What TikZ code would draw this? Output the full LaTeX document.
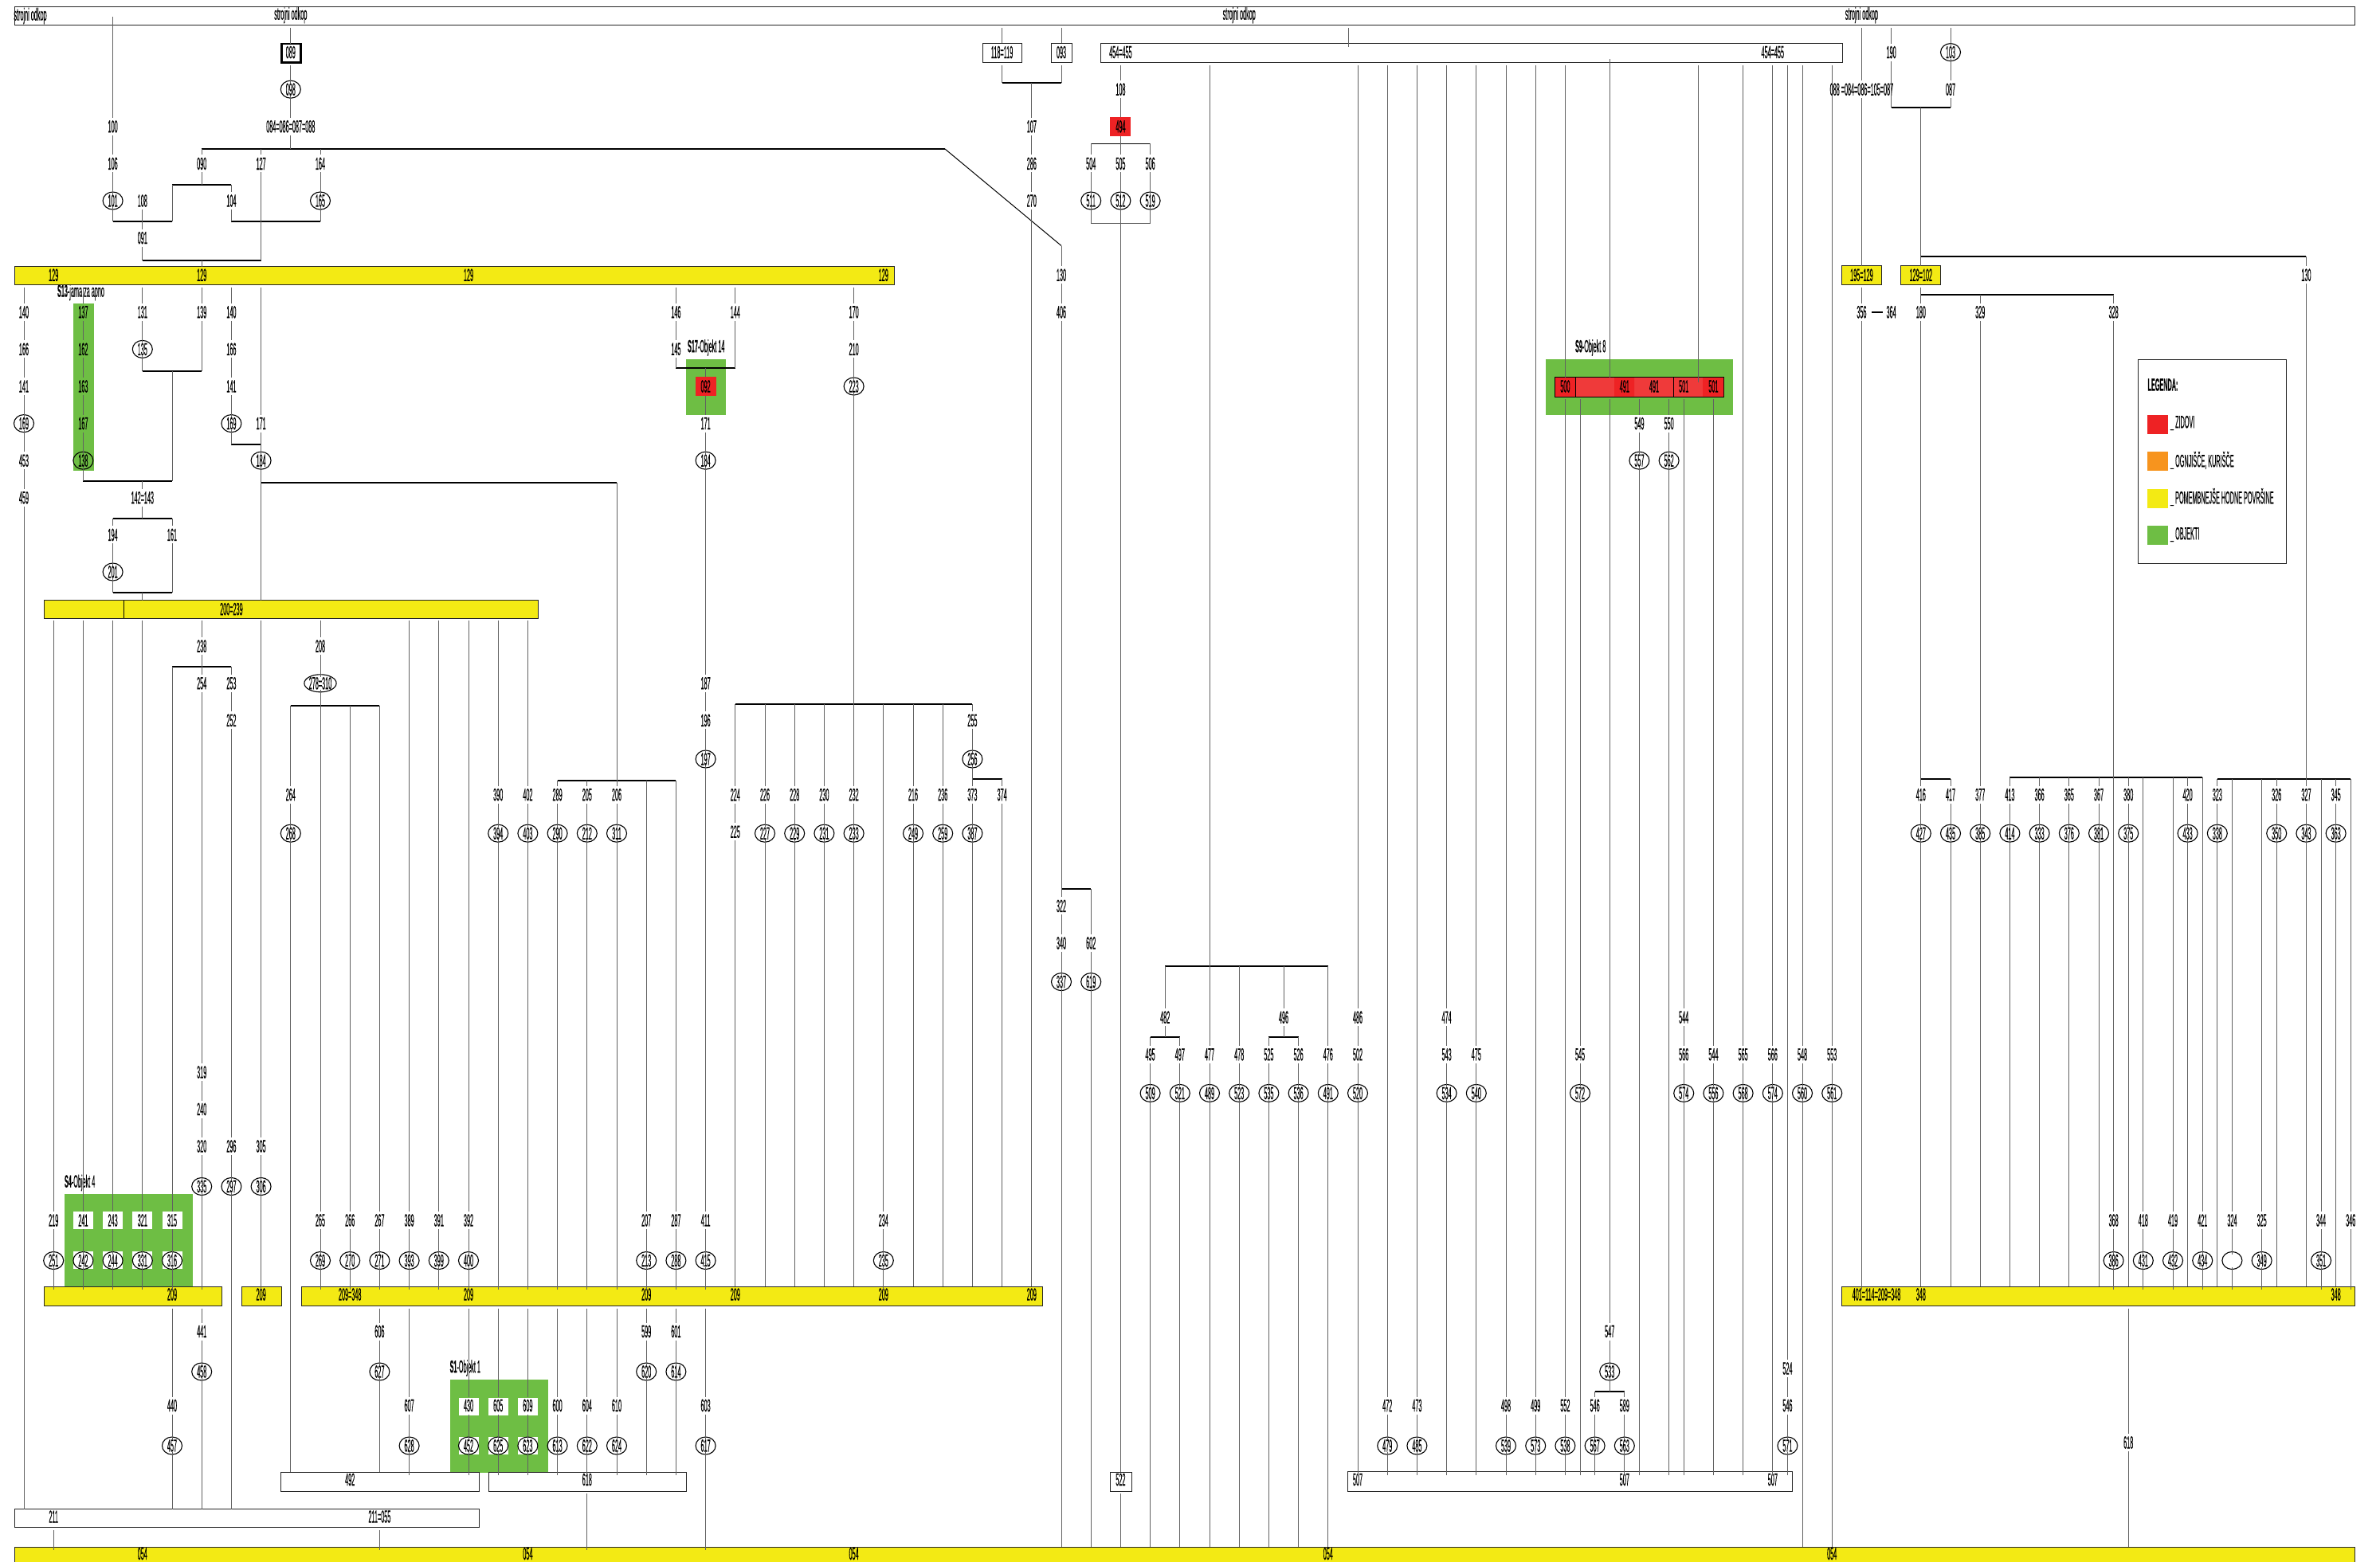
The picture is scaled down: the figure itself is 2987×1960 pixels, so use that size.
\documentclass[tikz,border=0pt]{standalone}
\usepackage{graphicx}
\usepackage{fontspec}
\setmainfont{Liberation Sans}[FakeBold=0.6]
\usetikzlibrary{shapes.geometric,calc}
\definecolor{hYel}{HTML}{F3EA14}
\definecolor{hGrn}{HTML}{6EBE44}
\definecolor{hRed}{HTML}{EE2224}
\definecolor{hRedL}{HTML}{EF3A3A}
\definecolor{hOra}{HTML}{F7941E}
\newcommand\hTx[1]{\scalebox{.33}[1]{\fontsize{22}{24}\selectfont #1}}
\newcommand\hLb[3]{\node[lbl] (n#1r#2) at ({cx(#1)},{ry(#2)}) {\hTx{#3}};}
\newcommand\hEl[3]{\node[ell] (n#1r#2) at ({cx(#1)},{ey(#2)}) {\hTx{#3}};}
\newcommand\hRd[3]{\node[redn] (n#1r#2) at ({cx(#1)},{ry(#2)}) {\hTx{#3}};}
\newcommand\hBar[6]{%
  \node[barbase,#1,anchor=north west,minimum width={(#5-#3)*1pt},minimum height={(#6-#4)*1pt}] (#2) at (#3,#4) {};
  \coordinate (#2t) at (#3,#4);
  \coordinate (#2i) at (#3,#4+4);
  \coordinate (#2b) at (#3,#6+3);
}
\newcommand\hBr[4]{%
  \coordinate (#1) at ({cx(#2)},#4);
  \coordinate (#1R) at ({cx(#3)},#4);
  \draw[thk] (#1) -- (#1R);
}
\newcommand\hSg[3]{\draw[cn] (c#1 |- #2) -- (c#1 |- #3);}
\newcommand\hCh[4]{%
  \foreach \jr/\ty/\tx [remember=\jr as \pj (initially -1)] in {#3}{%
    \if\ty E\hEl{#1}{\jr}{\tx}\else\if\ty R\hRd{#1}{\jr}{\tx}\else\hLb{#1}{\jr}{\tx}\fi\fi
    \ifnum\pj<0
      \if\relax\detokenize{#2}\relax\else\draw[cn] (c#1 |- #2) -- (n#1r\jr);\fi
    \else
      \draw[cn] (n#1r\pj) -- (n#1r\jr);
    \fi
    \xdef\hLast{\jr}%
  }%
  \if\relax\detokenize{#4}\relax\else\draw[cn] (n#1r\hLast) -- (c#1 |- #4);\fi
}
\tikzset{
  lbl/.style={inner sep=0pt,outer sep=0pt,minimum height=22pt},
  ell/.style={ellipse,draw=black,line width=1.1pt,inner sep=0pt,outer sep=-3pt,minimum width=25pt,minimum height=22pt},
  redn/.style={fill=hRed,inner sep=0pt,outer sep=0pt,minimum width=26pt,minimum height=24pt},
  cn/.style={draw=black!62,line width=0.9pt},
  thk/.style={draw=black,line width=2pt},
  thn/.style={draw=black,line width=1pt},
  barbase/.style={inner sep=0pt,outer sep=0pt},
  wbox/.style={draw=black!85,line width=1pt,fill=white},
  ybox/.style={draw=black!85,line width=1pt,fill=hYel},
  gbox/.style={fill=hGrn},
  rbox/.style={fill=hRed},
  obox/.style={fill=hOra},
  lyel/.style={fill=hYel},
}
\begin{document}
\begin{tikzpicture}[x=1pt,y=-1pt,
  declare function={cx(\k)=30+18.6*\k; ry(\j)=(\j<30)?(19+46.6*\j):(1346+46.5*(\j-30)); ey(\j)=ry(\j)+((\j>=30)?4:((\j>=20)?2:0));}]
\useasboundingbox (0,0) rectangle (2987,1960);
\foreach \K in {0,...,160}{\coordinate (c\K) at ({cx(\K)},0);}

% objects (green)
\hBar{gbox}{G13}{92}{381}{118}{590.5}
\hBar{gbox}{G17}{861}{450.8}{911}{521}
\hBar{gbox}{G9}{1939.7}{450.8}{2175}{521}
\hBar{gbox}{G4}{81}{1499}{241.6}{1616}
\hBar{gbox}{G1}{564.6}{1732}{688}{1849}
\foreach \K in {4,6,8,10}{\foreach \j in {34,35}{\fill[white] ({cx(\K)-12.5},{ry(\j)-11+(\j-34)*3}) rectangle ({cx(\K)+12.5},{ry(\j)+11+(\j-34)*3});}}
\foreach \K in {30,32,34}{\foreach \j in {39,40}{\fill[white] ({cx(\K)-12.5},{ry(\j)-10+(\j-39)*3}) rectangle ({cx(\K)+12.5},{ry(\j)+12+(\j-39)*3});}}
\node[lbl,anchor=west] (s13) at (72,367) {\hTx{\textbf{S13}-jama za apno}};
\node[lbl,anchor=west] (s17) at (863,436.5) {\hTx{\textbf{S17}-Objekt 14}};
\node[lbl,anchor=west] (s9) at (1977,436.5) {\hTx{\textbf{S9}-Objekt 8}};
\node[lbl,anchor=west] (s4) at (81,1485) {\hTx{\textbf{S4}-Objekt 4}};
\node[lbl,anchor=west] (s1) at (564.6,1717.5) {\hTx{\textbf{S1}-Objekt 1}};

% bars and boxes
\hBar{wbox}{T}{18}{8.4}{2955.6}{31.6}
\coordinate (T0) at (0,21);
\hBar{draw=black,line width=2.5pt,fill=white}{B089}{353.5}{55}{377.5}{78.5}
\hBar{wbox}{B118}{1233}{54}{1282.5}{78.5}
\hBar{wbox}{B093}{1319.4}{54}{1345}{78.5}
\hBar{wbox}{B454}{1381.6}{54}{2312}{78.5}
\hBar{ybox}{Y129}{18}{334.6}{1122}{357.7}
\hBar{ybox}{Y195}{2311}{333.8}{2361}{357.7}
\hBar{ybox}{Y102}{2385}{333.8}{2435}{357.7}
\hBar{ybox}{Y200}{55}{753.5}{675.6}{776}
\coordinate (y200da) at (155,753.5); \coordinate (y200db) at (155,776);
\draw[thn] (y200da) -- (y200db);
\hBar{ybox}{Y209a}{55}{1615}{278.5}{1639.5}
\hBar{ybox}{Y209b}{303}{1615}{353.6}{1639.5}
\hBar{ybox}{Y209c}{378}{1615}{1308.4}{1639.5}
\hBar{ybox}{Y348}{2311.6}{1615}{2955}{1639.5}
\hBar{wbox}{W492}{352.6}{1848}{601.4}{1872.4}
\hBar{wbox}{W618}{613}{1848}{861.5}{1872.4}
\hBar{wbox}{W522}{1393.5}{1848}{1420}{1872.4}
\hBar{wbox}{W507}{1691}{1847.7}{2249}{1872}
\hBar{wbox}{W211}{18}{1894.7}{601.4}{1917.8}
\hBar{ybox}{Y054}{18}{1942}{2955}{1970}
\hBar{draw=black,line width=0.9pt,fill=hRedL}{R9}{1951.7}{473.5}{2163}{498}
\fill[hRed] (1952,474) rectangle (1977,497.5) (2026,474) rectangle (2051,497.5) (2137,474) rectangle (2163,497.5);
\coordinate (d1a) at (1977,473.5); \coordinate (d1b) at (1977,498);
\coordinate (d2a) at (2100.5,473.5); \coordinate (d2b) at (2100.5,498);
\draw[thn] (d1a) -- (d1b); \draw[thn] (d2a) -- (d2b);
\coordinate (B454m) at (0,74);
\coordinate (R9m) at (0,480);

% bar texts
\node[lbl] (st1) at (38,20) {\hTx{strojni odkop}};
\foreach \K in {18,82,124}{\hLb{\K}{0}{strojni odkop}}
\hLb{18}{1}{089}\hLb{66}{1}{118=119}\hLb{70}{1}{093}\hLb{74}{1}{454=455}\hLb{118}{1}{454=455}
\foreach \K in {2,12,30,58}{\hLb{\K}{7}{129}}
\hLb{124}{7}{195=129}\hLb{128}{7}{129=102}
\hLb{14}{16}{200=239}
\hLb{10}{36}{209}\hLb{16}{36}{209}\hLb{22}{36}{209=348}
\foreach \K in {30,42,48,58,68}{\hLb{\K}{36}{209}}
\hLb{125}{36}{401=114=209=348}\hLb{128}{36}{348}\hLb{156}{36}{348}
\hLb{22}{41}{492}\hLb{38}{41}{618}\hLb{74}{41}{522}
\foreach \K in {90,108,118}{\hLb{\K}{41}{507}}
\hLb{2}{42}{211}\hLb{24}{42}{211=055}
\foreach \K in {8,34,56,88,122}{\hLb{\K}{43}{054}}
\hLb{104}{10}{500}\hLb{108}{10}{491}\hLb{110}{10}{491}\hLb{112}{10}{501}\hLb{114}{10}{501}

% brackets
\hBr{Br0}{12}{12}{187}
\coordinate (Br0E) at (1186,187); \coordinate (Dg) at (1332,308.5);
\draw[thk] (Br0) -- (Br0E); \draw[thn] (Br0E) -- (Dg);
\hBr{Br1}{6}{10}{277.8}
\hBr{Br2}{10}{14}{231.5}
\hBr{Br3}{14}{20}{277.8}
\hBr{Br4}{6}{10}{650.7}
\hBr{Br5}{6}{10}{743.9}
\hBr{Br6}{8}{16}{326.6}
\hBr{Br7}{8}{12}{466}
\hBr{BrB}{4}{10}{604}
\hBr{BrC}{16}{40}{605.6}
\hBr{Br8}{10}{14}{837}
\hBr{Br9}{14}{16}{557.7}
\hBr{Br10}{18}{24}{885.7}
\hBr{Br11}{36}{44}{979.5}
\hBr{Br12}{44}{48}{461.7}
\hBr{Br13}{48}{64}{884.4}
\hBr{Br14}{64}{66}{977.9}
\hBr{Br15}{66}{70}{103.5}
\hBr{Br16}{70}{72}{1116}
\coordinate (Br17) at ({cx(72)},180); \coordinate (Br17R) at ({cx(76)},180); \draw[thn] (Br17) -- (Br17R);
\coordinate (Br18) at ({cx(72)},280); \coordinate (Br18R) at ({cx(76)},280); \draw[cn] (Br18) -- (Br18R);
\hBr{Br19}{76}{78}{1302}
\hBr{Br20}{77}{88}{1213}
\hBr{Br21}{84}{86}{1302}
\hBr{Br22}{106}{108}{1747}
\hBr{Br23}{126}{130}{135}
\hBr{Br24}{128}{154}{321.8}
\hBr{Br25}{128}{141}{370}
\hBr{Br27}{128}{130}{978}
\hBr{Br28}{134}{147}{976}
\hBr{Br29}{148}{157}{978}

% columns
\hCh{0}{Y129b}{8/L/140,9/L/166,10/L/141,11/E/169,12/L/453,13/L/459}{W211t}
\hCh{2}{Y200b}{34/L/219,35/E/251}{Y209ai}
\hSg{2}{W211b}{Y054i}
\hCh{4}{Y129b}{8/L/137,9/L/162,10/L/163,11/L/167,12/E/138}{BrB}
\hCh{4}{Y200b}{34/L/241,35/E/242}{Y209ai}
\hCh{6}{T0}{3/L/100,4/L/106,5/E/101}{Br1}
\hCh{6}{Br4}{14/L/194,15/E/201}{Br5}
\hCh{6}{Y200b}{34/L/243,35/E/244}{Y209ai}
\hCh{8}{}{5/L/108,6/L/091}{Br6}
\hCh{8}{Y129b}{8/L/131,9/E/135}{Br7}
\hCh{8}{BrB}{13/L/142=143}{Br4}
\hSg{8}{Br5}{Y200t}
\hCh{8}{Y200b}{34/L/321,35/E/331}{Y209ai}
\hSg{10}{Br2}{Br1}
\hSg{10}{Br7}{BrB}
\hCh{10}{Br4}{14/L/161}{Br5}
\hCh{10}{Br8}{34/L/315,35/E/316}{Y209ai}
\hCh{10}{Y209ab}{39/L/440,40/E/457}{W211t}
\hCh{12}{Br0}{4/L/090}{Br2}
\hSg{12}{Br6}{Y129t}
\hCh{12}{Y129b}{8/L/139}{Br7}
\hCh{12}{Y200b}{17/L/238,18/L/254,30/L/319,31/L/240,32/L/320,33/E/335}{Y209ai}
\hCh{12}{Y209ab}{37/L/441,38/E/458}{W211t}
\hCh{14}{Br2}{5/L/104}{Br3}
\hCh{14}{Y129b}{8/L/140,9/L/166,10/L/141,11/E/169}{Br9}
\hCh{14}{Br8}{18/L/253,19/L/252,32/L/296,33/E/297}{W211t}
\hCh{16}{Br0}{4/L/127}{Br6}
\hCh{16}{Y129b}{11/L/171,12/E/184}{Y200t}
\hCh{16}{Y200b}{32/L/305,33/E/306}{Y209bi}
\hSg{18}{Tb}{B089t}
\hCh{18}{B089b}{2/E/098,3/L/084=086=087=088}{Br0}
\hCh{18}{Br10}{21/L/264,22/E/268}{W492t}
\hCh{20}{Br0}{4/L/164,5/E/165}{Br3}
\hLb{20}{17}{208}
\node[ell,minimum width=36pt] (n20r18) at ({cx(20)},{ry(18)}) {\hTx{278=310}};
\draw[cn] (c20 |- Y200b) -- (n20r17);
\draw[cn] (n20r17) -- (n20r18);
\draw[cn] (n20r18) -- (c20 |- Br10);
\hCh{20}{Br10}{34/L/265,35/E/269}{Y209ci}
\hCh{22}{Br10}{34/L/266,35/E/270}{Y209ci}
\hCh{24}{Br10}{34/L/267,35/E/271}{Y209ci}
\hCh{24}{Y209cb}{37/L/606,38/E/627}{W492t}
\hSg{24}{W211b}{Y054i}
\hCh{26}{Y200b}{34/L/389,35/E/393}{Y209ci}
\hCh{26}{Y209cb}{39/L/607,40/E/628}{W492i}
\hCh{28}{Y200b}{34/L/391,35/E/399}{Y209ci}
\hCh{30}{Y200b}{34/L/392,35/E/400}{Y209ci}
\hCh{30}{Y209cb}{39/L/430,40/E/452}{W492i}
\hCh{32}{Y200b}{21/L/390,22/E/394}{Y209ci}
\hCh{32}{Y209cb}{39/L/605,40/E/625}{W618i}
\hCh{34}{Y200b}{21/L/402,22/E/403}{Y209ci}
\hCh{34}{Y209cb}{39/L/609,40/E/623}{W618i}
\hCh{36}{Br11}{21/L/289,22/E/290}{Y209ci}
\hCh{36}{Y209cb}{39/L/600,40/E/613}{W618i}
\hCh{38}{Br11}{21/L/205,22/E/212}{Y209ci}
\hCh{38}{Y209cb}{39/L/604,40/E/622}{W618i}
\hSg{38}{W618b}{Y054i}
\hCh{40}{BrC}{21/L/206,22/E/311}{Y209ci}
\hCh{40}{Y209cb}{39/L/610,40/E/624}{W618i}
\hCh{42}{Br11}{34/L/207,35/E/213}{Y209ci}
\hCh{42}{Y209cb}{37/L/599,38/E/620}{W618i}
\hCh{44}{Y129b}{8/L/146,9/L/145}{Br12}
\hCh{44}{Br11}{34/L/287,35/E/288}{Y209ci}
\hCh{44}{Y209cb}{37/L/601,38/E/614}{W618i}
\hCh{46}{Br12}{10/R/092,11/L/171,12/E/184,18/L/187,19/L/196,20/E/197,34/L/411,35/E/415}{Y209ci}
\hCh{46}{Y209cb}{39/L/603,40/E/617}{Y054i}
\hCh{48}{Y129b}{8/L/144}{Br12}
\hCh{48}{Br13}{21/L/224,22/L/225}{Y209ct}
\hCh{50}{Br13}{21/L/226,22/E/227}{Y209ct}
\hCh{52}{Br13}{21/L/228,22/E/229}{Y209ct}
\hCh{54}{Br13}{21/L/230,22/E/231}{Y209ct}
\hCh{56}{Y129b}{8/L/170,9/L/210,10/E/223,21/L/232,22/E/233}{Y209ct}
\hCh{58}{Br13}{34/L/234,35/E/235}{Y209ci}
\hCh{60}{Br13}{21/L/216,22/E/249}{Y209ct}
\hCh{62}{Br13}{21/L/236,22/E/259}{Y209ct}
\hCh{64}{Br13}{19/L/255,20/E/256,21/L/373,22/E/387}{Y209ct}
\hCh{66}{Br14}{21/L/374}{Y209ct}
\hSg{66}{Tb}{B118t}
\hSg{66}{B118b}{Br15}
\hCh{68}{Br15}{3/L/107,4/L/286,5/L/270}{Y209ct}
\hSg{70}{Tb}{B093t}
\hSg{70}{B093b}{Br15}
\hCh{70}{Dg}{7/L/130,8/L/406,24/L/322,25/L/340,26/E/337}{Y054t}
\hCh{72}{Br16}{25/L/602,26/E/619}{Y054t}
\hCh{72}{Br17}{4/L/504,5/E/511}{Br18}
\hCh{74}{B454b}{2/L/108,3/R/494,4/L/505,5/E/512}{W522t}
\hSg{74}{W522b}{Y054t}
\hCh{76}{Br17}{4/L/506,5/E/519}{Br18}
\hCh{76}{Br19}{28/L/495,29/E/509}{Y054t}
\hCh{77}{Br20}{27/L/482}{Br19}
\hCh{78}{Br19}{28/L/497,29/E/521}{Y054t}
\hCh{80}{B454b}{28/L/477,29/E/489}{Y054t}
\hCh{82}{Br20}{28/L/478,29/E/523}{Y054t}
\hCh{84}{Br21}{28/L/525,29/E/535}{Y054t}
\hCh{85}{Br20}{27/L/496}{Br21}
\hCh{86}{Br21}{28/L/526,29/E/536}{Y054t}
\hCh{88}{Br20}{28/L/476,29/E/491}{Y054t}
\hCh{90}{B454b}{27/L/486,28/L/502,29/E/520}{W507i}
\hCh{92}{B454b}{39/L/472,40/E/479}{W507i}
\hCh{94}{B454b}{39/L/473,40/E/485}{W507i}
\hCh{96}{B454b}{27/L/474,28/L/543,29/E/534}{W507i}
\hCh{98}{B454b}{28/L/475,29/E/540}{W507i}
\hCh{100}{B454b}{39/L/498,40/E/539}{W507i}
\hCh{102}{B454b}{39/L/499,40/E/573}{W507i}
\hSg{104}{B454b}{R9t}
\hCh{104}{R9b}{39/L/552,40/E/538}{W507i}
\hCh{105}{R9b}{28/L/545,29/E/572}{W507i}
\hSg{107}{B454m}{R9t}
\hCh{107}{R9b}{37/L/547,38/E/533}{Br22}
\hCh{106}{Br22}{39/L/546,40/E/567}{W507i}
\hCh{108}{Br22}{39/L/589,40/E/563}{W507i}
\hCh{109}{R9b}{11/L/549,12/E/557}{W507i}
\hCh{111}{R9b}{11/L/550,12/E/562}{W507i}
\hCh{112}{R9b}{27/L/544,28/L/566,29/E/574}{W507i}
\hSg{113}{B454b}{R9m}
\hCh{114}{R9b}{28/L/544,29/E/556}{W507i}
\hCh{116}{B454b}{28/L/565,29/E/568}{W507i}
\hCh{118}{B454b}{28/L/566,29/E/574}{W507i}
\hCh{119}{B454b}{38/L/524,39/L/546,40/E/571}{W507i}
\hCh{120}{B454b}{28/L/548,29/E/560}{Y054t}
\hCh{122}{B454b}{28/L/553,29/E/561}{Y054t}
\hCh{124}{Tb}{2/L/088 =084=086=105=087}{Y195t}
\hCh{124}{Y195b}{8/L/356}{Y348i}
\hCh{126}{Tb}{1/L/190}{Br23}
\hLb{126}{8}{364}
\draw[line width=1.5pt,shorten <=7pt,shorten >=5pt] (n124r8) -- (n126r8);
\hCh{130}{Tb}{1/E/103,2/L/087}{Br23}
\hSg{128}{Br23}{Y102t}
\hCh{128}{Y102b}{8/L/180}{Br27}
\hCh{128}{Br27}{21/L/416,22/E/427}{Y348t}
\hCh{130}{Br27}{21/L/417,22/E/435}{Y348t}
\hCh{132}{Br25}{8/L/329,21/L/377,22/E/385}{Y348t}
\hCh{141}{Br25}{8/L/328,34/L/368,35/E/386}{Y348i}
\hCh{134}{Br28}{21/L/413,22/E/414}{Y348t}
\hCh{136}{Br28}{21/L/366,22/E/333}{Y348t}
\hCh{138}{Br28}{21/L/365,22/E/376}{Y348t}
\hCh{140}{Br28}{21/L/367,22/E/381}{Y348t}
\hCh{142}{Br28}{21/L/380,22/E/375}{Y348t}
\hCh{142}{Y348b}{40/L/618}{Y054t}
\hCh{143}{Br28}{34/L/418,35/E/431}{Y348i}
\hCh{145}{Br28}{34/L/419,35/E/432}{Y348i}
\hCh{146}{Br28}{21/L/420,22/E/433}{Y348t}
\hCh{147}{Br28}{34/L/421,35/E/434}{Y348i}
\hCh{148}{Br29}{21/L/323,22/E/338}{Y348t}
\hCh{149}{Br29}{34/L/324,35/E/{}}{Y348i}
\hCh{151}{Br29}{34/L/325,35/E/349}{Y348i}
\hCh{152}{Br29}{21/L/326,22/E/350}{Y348t}
\hCh{154}{Br24}{7/L/130,21/L/327,22/E/343}{Y348t}
\hCh{155}{Br29}{34/L/344,35/E/351}{Y348i}
\hCh{156}{Br29}{21/L/345,22/E/363}{Y348t}
\hCh{157}{Br29}{34/L/346}{Y348i}
\coordinate (tk1) at (1692,35); \coordinate (tk2) at (1692,59);
\draw[cn] (tk1) -- (tk2);

% legend
\hBar{draw=black!85,line width=1pt}{Leg}{2683}{451}{2869}{707}
\node[lbl,anchor=west] (lgt) at (2695.5,483) {\hTx{\textbf{LEGENDA:}}};
\hBar{rbox}{L1}{2695}{521}{2721}{545}
\hBar{obox}{L2}{2695}{567}{2721}{591}
\hBar{lyel}{L3}{2695}{614}{2721}{638}
\hBar{gbox}{L4}{2695}{660}{2721}{684}
\node[lbl,anchor=west] (lx1) at (2724,531) {\hTx{\textbf{\_} ZIDOVI}};
\node[lbl,anchor=west] (lx2) at (2724,578) {\hTx{\textbf{\_} OGNJIŠČE, KURIŠČE}};
\node[lbl,anchor=west] (lx3) at (2724,624) {\hTx{\textbf{\_} POMEMBNEJŠE HODNE POVRŠINE}};
\node[lbl,anchor=west] (lx4) at (2724,671) {\hTx{\textbf{\_} OBJEKTI}};
\end{tikzpicture}
\end{document}
